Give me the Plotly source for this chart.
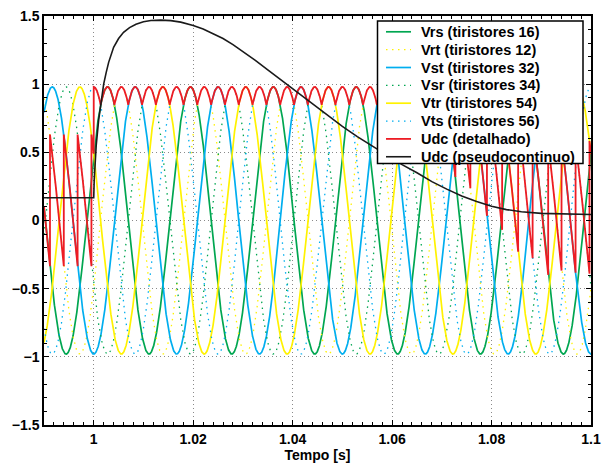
import numpy as np
import plotly.graph_objects as go

# --- three-phase line voltages (per unit) ---
AMPLITUDE = 0.98
FREQ_HZ = 60.0
VOLT_NAMES = ["Vrs (tiristores 16)", "Vrt (tiristores 12)", "Vst (tiristores 32)",
              "Vsr (tiristores 34)", "Vtr (tiristores 54)", "Vts (tiristores 56)"]
VOLT_PHASE_DEG = [30.0, -30.0, -90.0, -150.0, 150.0, 90.0]
VOLT_COLORS = ["#00a651", "#fff200", "#00aeef", "#00a651", "#fff200", "#00aeef"]
DOTTED = "1.5px,4.5px"
VOLT_DASH = ["solid", DOTTED, "solid", DOTTED, "solid", DOTTED]
VOLT_WIDTH = [1.7, 1.3, 1.7, 1.3, 1.7, 1.3]

# --- thyristor firing delay per commutation (degrees after natural commutation) ---
PULSE_INDEX = list(range(-5, 37))
FIRING_DELAY_DEG = ([80, 80, 80, 80, 80, 30]
                    + [0] * 21
                    + [8, 16, 24, 32, 41, 46, 58, 64, 73.5, 76.4, 84, 82, 83, 83.5, 83.5])

# --- filtered ("pseudo-continuous") DC voltage ---
UDC_T = [0.99, 1.0, 1.0001, 1.0002, 1.0005, 1.001, 1.0015, 1.002, 1.0025, 1.003,
         1.004, 1.005, 1.006, 1.0072, 1.0085, 1.010, 1.0115, 1.0135, 1.0155,
         1.0175, 1.0200, 1.0220, 1.0240, 1.0260, 1.0280, 1.0300, 1.0325, 1.0350,
         1.0375, 1.0400, 1.0425, 1.0450, 1.0475, 1.0500, 1.0530, 1.0560, 1.0590,
         1.0620, 1.0650, 1.0680, 1.0710, 1.0740, 1.0770, 1.0800, 1.0830, 1.0860,
         1.0900, 1.0950, 1.1]
UDC_V = [0.167, 0.167, 0.30, 0.40, 0.55, 0.74, 0.89, 1.00, 1.085, 1.16,
         1.27, 1.335, 1.38, 1.415, 1.44, 1.458, 1.467, 1.470, 1.466,
         1.455, 1.43, 1.405, 1.37, 1.335, 1.29, 1.24, 1.175, 1.105,
         1.035, 0.965, 0.895, 0.825, 0.755, 0.69, 0.615, 0.545, 0.478,
         0.41, 0.35, 0.285, 0.23, 0.18, 0.14, 0.105, 0.08, 0.064,
         0.052, 0.046, 0.044]

T0, T1 = 0.99, 1.1
t = np.linspace(T0, T1, 11001)
w = 2 * np.pi * FREQ_HZ


def line_voltage(i, tt):
    return AMPLITUDE * np.sin(w * tt + np.deg2rad(VOLT_PHASE_DEG[i]))


# rectified output: each pulse follows the line voltage that peaks in that sixth of a cycle
pulse_len = 1.0 / (6 * FREQ_HZ)
fire_t = [1.0 + (m - 0.5) * pulse_len + a / 360.0 / FREQ_HZ
          for m, a in zip(PULSE_INDEX, FIRING_DELAY_DEG)]
ud_t, ud_v = [], []
for j in range(len(PULSE_INDEX) - 1):
    m = PULSE_INDEX[j]
    peak_t = 1.0 + m * pulse_len
    k = int(np.argmax([line_voltage(i, peak_t) for i in range(6)]))
    ta, tb = max(fire_t[j], T0), min(fire_t[j + 1], T1)
    if tb <= ta:
        continue
    seg = np.linspace(ta, tb, 60)
    ud_t.extend(seg)
    ud_v.extend(line_voltage(k, seg))

UD_NAME = "Udc (detalhado)"
UD_COLOR = "#ed1c24"
UDF_NAME = "Udc (pseudocontinuo)"
UDF_COLOR = "#1a1a1a"

fig = go.Figure()
for i, name in enumerate(VOLT_NAMES):
    fig.add_trace(go.Scatter(
        x=t, y=line_voltage(i, t), mode="lines", name=name, showlegend=False,
        line=dict(color=VOLT_COLORS[i], width=VOLT_WIDTH[i], dash=VOLT_DASH[i])))
fig.add_trace(go.Scatter(x=ud_t, y=ud_v, mode="lines", name=UD_NAME, showlegend=False,
                         line=dict(color=UD_COLOR, width=1.8)))
fig.add_trace(go.Scatter(x=UDC_T, y=UDC_V, mode="lines", name=UDF_NAME, showlegend=False,
                         line=dict(color=UDF_COLOR, width=1.6)))
# empty trace that anchors the top/right tick axes
fig.add_trace(go.Scatter(x=[None], y=[None], xaxis="x2", yaxis="y2", showlegend=False,
                         hoverinfo="skip"))

bold = dict(family="Liberation Sans, Arial, sans-serif", size=14, color="black", weight="bold")
axis_common = dict(showline=True, linecolor="black", linewidth=1.5, mirror="allticks",
                   ticks="inside", ticklen=5, tickcolor="black", tickwidth=1,
                   showgrid=True, gridcolor="#8a8a8a", griddash="1px,3px", gridwidth=1,
                   zeroline=False, tickfont=bold)
XTICKS = [1.0, 1.02, 1.04, 1.06, 1.08, 1.1]
YTICKS = [-1.5, -1, -0.5, 0, 0.5, 1, 1.5]
x_minor = dict(dtick=0.002, tick0=0.99, ticks="inside", ticklen=3, tickcolor="black",
               showgrid=False)
y_minor = dict(dtick=0.1, tick0=-1.5, ticks="inside", ticklen=3, tickcolor="black",
               showgrid=False)

# plot area in pixels (figure 603 x 464)
W, H = 603, 464
ML, MR, MT, MB = 44, 12, 16, 39
PW, PH = W - ML - MR, H - MT - MB


def px_x(px):
    return (px - ML) / PW


def px_y(py):
    return (H - MB - py) / PH


# boxed legend drawn in the upper-right corner of the axes
legend_entries = list(zip(VOLT_NAMES, VOLT_COLORS, VOLT_DASH, VOLT_WIDTH))
legend_entries += [(UD_NAME, UD_COLOR, "solid", 1.8), (UDF_NAME, UDF_COLOR, "solid", 1.6)]
BOX_L, BOX_R, BOX_T, BOX_B = 377.5, 583, 21, 163.5
ROW0, ROW_STEP = 31.8, 17.85
shapes = [dict(type="rect", xref="paper", yref="paper", layer="above",
               x0=px_x(BOX_L), x1=px_x(BOX_R), y0=px_y(BOX_B), y1=px_y(BOX_T),
               fillcolor="white", line=dict(color="black", width=1.5))]
annotations = []
for r, (name, color, dash, lw) in enumerate(legend_entries):
    yc = ROW0 + r * ROW_STEP
    shapes.append(dict(type="line", xref="paper", yref="paper", layer="above",
                       x0=px_x(386), x1=px_x(411), y0=px_y(yc), y1=px_y(yc),
                       line=dict(color=color, width=lw, dash=dash)))
    annotations.append(dict(xref="paper", yref="paper", x=px_x(419), y=px_y(yc),
                            xanchor="left", yanchor="middle", showarrow=False,
                            text=name, font=dict(family=bold["family"], size=14.5,
                                                 color="black", weight="bold")))

fig.update_layout(
    xaxis=dict(range=[T0, T1], tickvals=XTICKS,
               ticktext=["1", "1.02", "1.04", "1.06", "1.08", "1.1"], minor=x_minor,
               title=dict(text="Tempo [s]", font=bold, standoff=2),
               automargin=False, **axis_common),
    yaxis=dict(range=[-1.5, 1.5], tickvals=YTICKS,
               ticktext=["\u22121.5", "\u22121", "\u22120.5", "0", "0.5", "1", "1.5"],
               minor=y_minor, automargin=False, **axis_common),
    xaxis2=dict(overlaying="x", side="top", range=[T0, T1], tickvals=XTICKS,
                showticklabels=False, ticks="inside", ticklen=5, tickcolor="black",
                minor=x_minor, showgrid=False, zeroline=False, showline=False),
    yaxis2=dict(overlaying="y", side="right", range=[-1.5, 1.5], tickvals=YTICKS,
                showticklabels=False, ticks="inside", ticklen=5, tickcolor="black",
                minor=y_minor, showgrid=False, zeroline=False, showline=False),
    width=W, height=H, margin=dict(l=ML, r=MR, t=MT, b=MB),
    paper_bgcolor="white", plot_bgcolor="white", font=bold,
    showlegend=False, shapes=shapes, annotations=annotations,
)
fig.write_html("out.html")
